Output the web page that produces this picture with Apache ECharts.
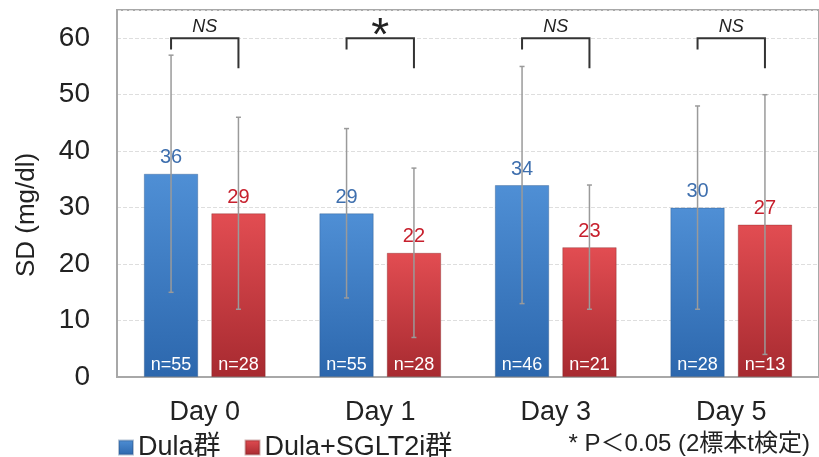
<!DOCTYPE html>
<html><head><meta charset="utf-8">
<script src="https://cdn.jsdelivr.net/npm/echarts@6/dist/echarts.min.js"></script>
<style>html,body{margin:0;padding:0;background:#fff}#c{width:819px;height:457px}</style>
</head><body><div id="c"></div>
<script>
const categories = ['Day 0', 'Day 1', 'Day 3', 'Day 5'];
const dulaMean = [36, 29, 34, 30];
const sgltMean = [29, 22, 23, 27];
const dulaLow = [15, 14, 13, 12];
const dulaHigh = [57, 44, 55, 48];
const sgltLow = [12, 7, 12, 4];
const sgltHigh = [46, 37, 34, 50];
const dulaN = [55, 55, 46, 28];
const sgltN = [28, 28, 21, 13];
const sigLabels = ['NS', '*', 'NS', 'NS'];
const bracketTop = [60, 60, 60, 60];
const bracketLeftEnd = [58, 58, 58, 58];
const bracketRightEnd = [54.7, 54.7, 54.7, 54.7];
const yTicks = [0, 10, 20, 30, 40, 50, 60];

const FONT = '"Liberation Sans", Arial, "Noto Sans CJK JP", sans-serif';
const OFF = 0.192; // bar centre offset as fraction of category band

const chart = echarts.init(document.getElementById('c'));
const blueGrad = new echarts.graphic.LinearGradient(0, 0, 0, 1, [
  {offset: 0, color: '#4f8fd5'}, {offset: 1, color: '#2c67ad'}]);
const redGrad = new echarts.graphic.LinearGradient(0, 0, 0, 1, [
  {offset: 0, color: '#e24d52'}, {offset: 1, color: '#a72a30'}]);

function errItem(side) {
  return function (params, api) {
    const band = api.size([1, 0])[0];
    const off = side * band * OFF;
    const p1 = api.coord([api.value(0), api.value(1)]);
    const p2 = api.coord([api.value(0), api.value(2)]);
    const x = p1[0] + off;
    const st = {stroke: '#9a9a9a', lineWidth: 1.5};
    return {type: 'group', children: [
      {type: 'line', shape: {x1: x, y1: p1[1], x2: x, y2: p2[1]}, style: st},
      {type: 'line', shape: {x1: x - 2.5, y1: p1[1], x2: x + 2.5, y2: p1[1]}, style: st},
      {type: 'line', shape: {x1: x - 2.5, y1: p2[1], x2: x + 2.5, y2: p2[1]}, style: st}
    ]};
  };
}

chart.setOption({
  animation: false,
  textStyle: {fontFamily: FONT},
  grid: {left: 117, top: 10, width: 708, bottom: 80, show: true, borderColor: '#a8a8a8', borderWidth: 2},
  legend: {
    left: 113, top: 429, itemWidth: 14, itemHeight: 14, itemGap: 24, icon: 'rect',
    data: ['Dula群', 'Dula+SGLT2i群'],
    textStyle: {fontSize: 27, color: '#222', fontFamily: FONT}
  },
  xAxis: {
    type: 'category', data: categories,
    axisLine: {show: true, lineStyle: {color: '#a8a8a8', width: 2}},
    axisTick: {show: false},
    axisLabel: {fontSize: 27, color: '#222', margin: 22, fontFamily: FONT}
  },
  yAxis: {
    type: 'value', min: 0, max: 65, interval: 10,
    axisLine: {show: true, lineStyle: {color: '#a8a8a8', width: 2}},
    axisTick: {show: false},
    axisLabel: {fontSize: 28, color: '#222', margin: 27, fontFamily: FONT,
      formatter: v => yTicks.indexOf(v) >= 0 ? String(v) : ''},
    splitLine: {lineStyle: {color: '#dedede', type: 'dashed', width: 1}}
  },
  graphic: [{
    type: 'text', x: 27, y: 215, rotation: Math.PI / 2,
    style: {text: 'SD (mg/dl)', fontSize: 26, fill: '#222', align: 'center', verticalAlign: 'middle', fontFamily: FONT}
  }, {
    type: 'text', right: 9, top: 432,
    style: {text: '* P＜0.05 (2標本t検定)', fontSize: 24, fill: '#222', fontFamily: FONT}
  }],
  series: [
    {
      name: 'Dula群', type: 'bar', data: dulaMean, barWidth: '31%', barGap: '24%',
      itemStyle: {color: blueGrad, borderColor: 'rgba(40,80,130,0.35)', borderWidth: 1},
      label: {show: true, position: 'top', distance: 6, fontSize: 20, color: '#3e6fae', fontFamily: FONT},
      z: 2
    },
    {
      name: 'Dula+SGLT2i群', type: 'bar', data: sgltMean, barWidth: '31%', barGap: '24%',
      itemStyle: {color: redGrad, borderColor: 'rgba(120,30,30,0.35)', borderWidth: 1},
      label: {show: true, position: 'top', distance: 6, fontSize: 20, color: '#c7202d', fontFamily: FONT},
      z: 2
    },
    {
      type: 'custom', renderItem: errItem(-1), z: 5, silent: true,
      encode: {x: 0, y: [1, 2]},
      data: categories.map((c, i) => [i, dulaLow[i], dulaHigh[i]])
    },
    {
      type: 'custom', renderItem: errItem(1), z: 5, silent: true,
      encode: {x: 0, y: [1, 2]},
      data: categories.map((c, i) => [i, sgltLow[i], sgltHigh[i]])
    },
    {
      type: 'custom', z: 6, silent: true,
      encode: {x: 0, y: [1, 2, 3]},
      data: categories.map((c, i) => [i, 0, dulaN[i], sgltN[i]]),
      renderItem: function (params, api) {
        const band = api.size([1, 0])[0];
        const p = api.coord([api.value(0), api.value(1)]);
        const mk = (side, n) => ({type: 'text', x: p[0] + side * band * OFF, y: p[1] - 12,
          style: {text: 'n=' + n, fontSize: 18, fill: '#fff', align: 'center', verticalAlign: 'middle', fontFamily: FONT}});
        return {type: 'group', children: [mk(-1, api.value(2)), mk(1, api.value(3))]};
      }
    },
    {
      type: 'custom', z: 6, silent: true,
      encode: {x: 0, y: [1, 2, 3]},
      data: categories.map((c, i) => [i, bracketTop[i], bracketLeftEnd[i], bracketRightEnd[i]]),
      renderItem: function (params, api) {
        const band = api.size([1, 0])[0];
        const i = api.value(0);
        const top = api.coord([i, api.value(1)]);
        const le = api.coord([i, api.value(2)]);
        const re = api.coord([i, api.value(3)]);
        const xl = top[0] - band * OFF, xr = top[0] + band * OFF;
        const st = {stroke: '#333', lineWidth: 2, fill: null};
        const lab = sigLabels[params.dataIndex];
        const star = lab === '*';
        return {type: 'group', children: [
          {type: 'polyline', shape: {points: [[xl, le[1]], [xl, top[1]], [xr, top[1]], [xr, re[1]]]}, style: st},
          {type: 'text', x: top[0], y: star ? top[1] - 1 : top[1] - 11,
            style: {text: lab, fontSize: star ? 46 : 18, fontStyle: star ? 'normal' : 'italic',
              fontWeight: 'normal',
              fill: '#222', align: 'center', verticalAlign: 'middle', fontFamily: FONT}}
        ]};
      }
    }
  ]
});
</script></body></html>
